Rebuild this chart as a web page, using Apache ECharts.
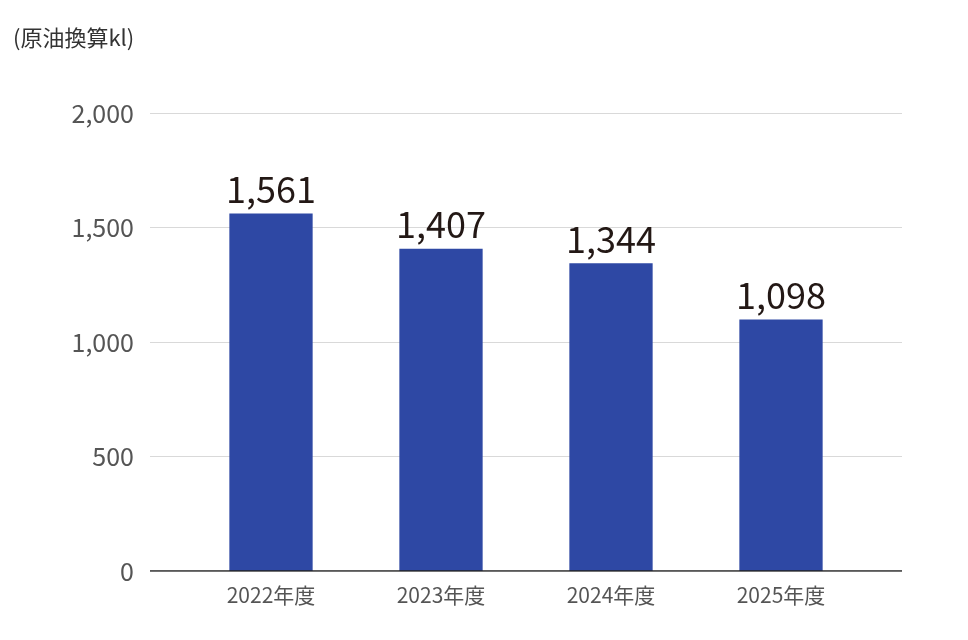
<!DOCTYPE html>
<html><head><meta charset="utf-8">
<script src="https://cdn.jsdelivr.net/npm/echarts@6/dist/echarts.min.js"></script>
<style>html,body{margin:0;padding:0;background:#fff}#c{width:968px;height:640px}</style>
</head><body><div id="c"></div>
<script>
const categories = ['2022年度','2023年度','2024年度','2025年度'];
const values = [1561, 1407, 1344, 1098];
const chart = echarts.init(document.getElementById('c'));
const font = '"Noto Sans CJK JP","Noto Sans",sans-serif';
chart.setOption({
  animation:false,
  title:{text:'(原油換算kl)',left:8,top:22,textStyle:{fontFamily:font,fontSize:22,fontWeight:'normal',color:'#333'}},
  grid:[
    {left:150,right:66,top:113,bottom:69},
    {left:186,right:102,top:113,bottom:69}
  ],
  xAxis:[
    {gridIndex:0,type:'value',min:0,max:1,show:false},
    {gridIndex:1,type:'category',data:categories,axisTick:{show:false},axisLine:{show:false},
     axisLabel:{fontFamily:font,fontSize:21,color:'#555',margin:14}}
  ],
  yAxis:[
    {gridIndex:0,type:'value',min:0,max:2000,interval:500,
     axisLine:{show:false},axisTick:{show:false},
     axisLabel:{fontFamily:font,fontSize:25,color:'#555',margin:16,formatter:v=>v.toLocaleString('en-US')},
     splitLine:{lineStyle:{color:'#d9d9d9',width:1}}},
    {gridIndex:1,type:'value',min:0,max:2000,show:false}
  ],
  series:[
    {type:'line',xAxisIndex:0,yAxisIndex:0,data:[[0,0],[1,0]],symbol:'none',lineStyle:{color:'#222',width:1.5},silent:true},
    {type:'bar',xAxisIndex:1,yAxisIndex:1,data:values,barWidth:'49%',itemStyle:{color:'#2e48a4'},
     label:{show:true,position:'top',distance:6,fontFamily:font,fontSize:36,color:'#231815',
       formatter:p=>p.value.toLocaleString('en-US')}}
  ]
});
</script></body></html>
